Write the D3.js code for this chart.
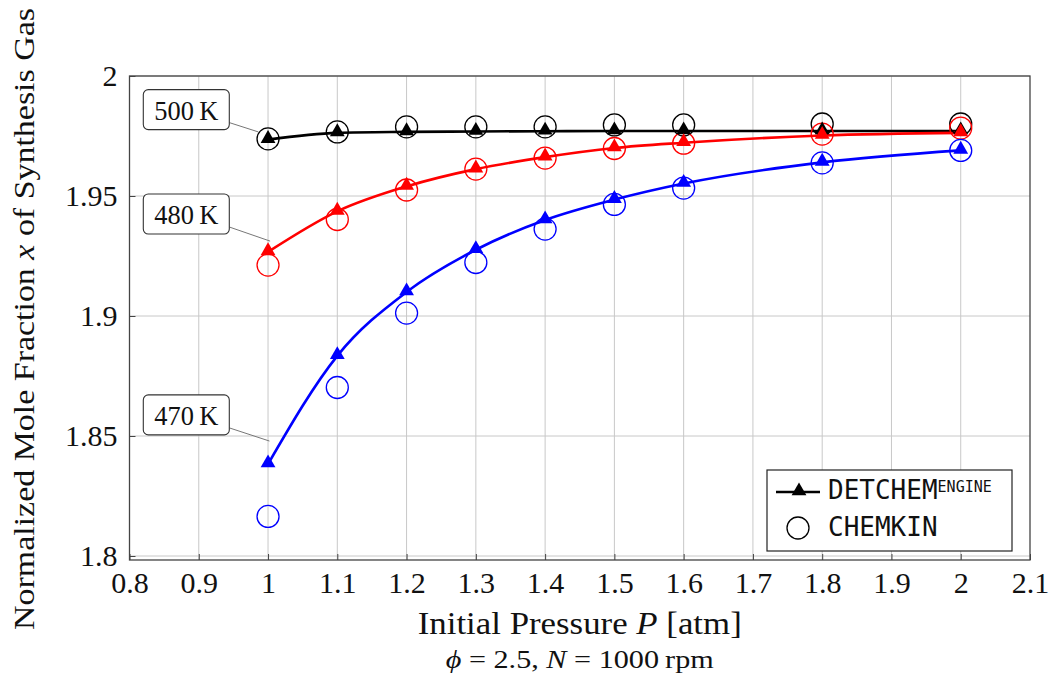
<!DOCTYPE html>
<html>
<head>
<meta charset="utf-8">
<script src="https://cdn.jsdelivr.net/npm/d3@7"></script>
<style>
  body { margin: 0; background: #fff; }
  svg text { font-family: "Liberation Serif", "DejaVu Serif", serif; fill: #111; }
  .mono { font-family: "DejaVu Sans Mono", monospace; }
</style>
</head>
<body>
<div id="chart"></div>
<script>
'use strict';

// pressures [atm]
const pressures = [1.0, 1.1, 1.2, 1.3, 1.4, 1.5, 1.6, 1.8, 2.0];

// DETCHEM^ENGINE (lines with triangles)
const detchem500 = [1.9735, 1.9763, 1.9767, 1.9769, 1.9770, 1.9771, 1.9771, 1.9771, 1.9771];
const detchem480 = [1.9267, 1.9436, 1.9540, 1.9612, 1.9662, 1.9700, 1.9722, 1.9752, 1.9763];
const detchem470 = [1.8383, 1.8834, 1.9100, 1.9276, 1.9400, 1.9485, 1.9552, 1.9640, 1.9690];

// CHEMKIN (open circles)
const chemkin500 = [1.9738, 1.9767, 1.9788, 1.9788, 1.9788, 1.9796, 1.9796, 1.9800, 1.9800];
const chemkin480 = [1.9212, 1.9402, 1.9525, 1.9612, 1.9658, 1.9698, 1.9720, 1.9758, 1.9783];
const chemkin470 = [1.8165, 1.8702, 1.9012, 1.9223, 1.9362, 1.9465, 1.9533, 1.9638, 1.9690];

const xTicks = [0.8, 0.9, 1.0, 1.1, 1.2, 1.3, 1.4, 1.5, 1.6, 1.7, 1.8, 1.9, 2.0, 2.1];
const yTicks = [1.8, 1.85, 1.9, 1.95, 2.0];

const seriesNames = ["500 K", "480 K", "470 K"];
const seriesColors = ["#000000", "#ff0000", "#0000ff"];

// label boxes: box centre and pin end, in data units
const labelBoxX = [0.882, 0.882, 0.882];
const labelBoxY = [1.9860, 1.9425, 1.8588];
const pinX = [0.986, 1.003, 1.002];
const pinY = [1.9767, 1.9312, 1.8479];

const width = 1051;
const height = 682;
const margin = { top: 76, right: 21, bottom: 122, left: 129.5 };

const svg = d3.select("#chart")
    .append("svg")
    .attr("width", width)
    .attr("height", height);

const xScale = d3.scaleLinear()
    .domain([0.8, 2.1])
    .range([margin.left, width - margin.right]);

const yScale = d3.scaleLinear()
    .domain([1.8 - 4 / 2400, 2.0])
    .range([height - margin.bottom, margin.top]);

const fmt = d3.format("~g");

// grid
const grid = svg.append("g").attr("class", "grid");
grid.selectAll("line.gx")
    .data(xTicks.slice(1, -1))
    .join(enter => enter.append("line").attr("class", "gx"))
    .attr("x1", d => xScale(d)).attr("x2", d => xScale(d))
    .attr("y1", margin.top).attr("y2", height - margin.bottom)
    .attr("stroke", "#c8c8c8").attr("stroke-width", 1);

grid.selectAll("line.gy")
    .data(yTicks)
    .join(enter => enter.append("line").attr("class", "gy"))
    .attr("x1", margin.left).attr("x2", width - margin.right)
    .attr("y1", d => yScale(d)).attr("y2", d => yScale(d))
    .attr("stroke", "#c8c8c8").attr("stroke-width", 1);

// axes (ticks inside)
const xAxis = d3.axisBottom(xScale).tickValues(xTicks).tickSize(-6).tickFormat(fmt).tickPadding(14);
const yAxis = d3.axisLeft(yScale).tickValues(yTicks).tickSize(-6).tickFormat(fmt).tickPadding(12);

const gx = svg.append("g")
    .attr("class", "axis x-axis")
    .attr("transform", `translate(0, ${height - margin.bottom})`)
    .call(xAxis);
const gy = svg.append("g")
    .attr("class", "axis y-axis")
    .attr("transform", `translate(${margin.left}, 0)`)
    .call(yAxis);

[gx, gy].forEach(g => {
    g.select(".domain").remove();
    g.selectAll(".tick line").attr("stroke", "#444");
    g.selectAll(".tick text")
        .attr("font-family", "Liberation Serif")
        .attr("font-size", 30)
        .attr("fill", "#111");
});
gx.selectAll(".tick text").attr("dy", "0.62em");

// frame
svg.append("rect")
    .attr("x", margin.left)
    .attr("y", margin.top)
    .attr("width", width - margin.right - margin.left)
    .attr("height", height - margin.bottom - margin.top)
    .attr("fill", "none")
    .attr("stroke", "#444")
    .attr("stroke-width", 1.3);

// series
const detchem = [detchem500, detchem480, detchem470];
const chemkin = [chemkin500, chemkin480, chemkin470];

const line = d3.line()
    .x((d, i) => xScale(pressures[i]))
    .y(d => yScale(d))
    .curve(d3.curveMonotoneX);

const tri = d3.symbol().type(d3.symbolTriangle).size(95);

detchem.forEach((vals, k) => {
    svg.append("path")
        .datum(vals)
        .attr("d", line)
        .attr("fill", "none")
        .attr("stroke", seriesColors[k])
        .attr("stroke-width", 2.6);
});

chemkin.forEach((vals, k) => {
    svg.append("g")
        .selectAll("circle")
        .data(vals)
        .join("circle")
        .attr("cx", (d, i) => xScale(pressures[i]))
        .attr("cy", d => yScale(d))
        .attr("r", 11)
        .attr("fill", "none")
        .attr("stroke", seriesColors[k])
        .attr("stroke-width", 1.3);
});

detchem.forEach((vals, k) => {
    svg.append("g")
        .selectAll("path")
        .data(vals)
        .join("path")
        .attr("d", tri)
        .attr("transform", (d, i) => `translate(${xScale(pressures[i])},${yScale(d) - 1})`)
        .attr("fill", seriesColors[k]);
});

// temperature labels with pins
seriesNames.forEach((name, k) => {
    const cx = xScale(labelBoxX[k]);
    const cy = yScale(labelBoxY[k]);
    const bw = 86, bh = 40;
    svg.append("line")
        .attr("x1", cx + bw / 2).attr("y1", cy + 13)
        .attr("x2", xScale(pinX[k])).attr("y2", yScale(pinY[k]))
        .attr("stroke", "#777").attr("stroke-width", 1);
    svg.append("rect")
        .attr("x", cx - bw / 2).attr("y", cy - bh / 2)
        .attr("width", bw).attr("height", bh)
        .attr("rx", 5)
        .attr("fill", "#fff")
        .attr("stroke", "#333")
        .attr("stroke-width", 1.1);
    svg.append("text")
        .attr("x", cx).attr("y", cy + 10)
        .attr("text-anchor", "middle")
        .attr("font-size", 27)
        .attr("textLength", 64)
        .attr("lengthAdjust", "spacingAndGlyphs")
        .text(name.replace(" ", "\u2009"));
});

// legend
const lg = svg.append("g").attr("class", "legend");
lg.append("rect")
    .attr("x", 767).attr("y", 470)
    .attr("width", 245).attr("height", 81)
    .attr("fill", "#fff")
    .attr("stroke", "#222")
    .attr("stroke-width", 1.2);
lg.append("line")
    .attr("x1", 776).attr("x2", 820)
    .attr("y1", 492).attr("y2", 492)
    .attr("stroke", "#000").attr("stroke-width", 2.6);
lg.append("path")
    .attr("d", tri)
    .attr("transform", "translate(799,491)")
    .attr("fill", "#000");
lg.append("circle")
    .attr("cx", 798).attr("cy", 528).attr("r", 11)
    .attr("fill", "none").attr("stroke", "#000").attr("stroke-width", 1.3);
const t1 = lg.append("text")
    .attr("class", "mono")
    .attr("x", 828).attr("y", 499)
    .attr("font-size", 26)
    .attr("fill", "#111");
t1.append("tspan").text("DETCHEM");
t1.append("tspan").attr("font-size", 15).attr("dy", -7).text("ENGINE");
lg.append("text")
    .attr("class", "mono")
    .attr("x", 828).attr("y", 536)
    .attr("font-size", 26)
    .attr("fill", "#111")
    .text("CHEMKIN");

// axis titles
const xt = svg.append("text")
    .attr("x", (margin.left + width - margin.right) / 2)
    .attr("y", 634)
    .attr("text-anchor", "middle")
    .attr("font-size", 31)
    .attr("textLength", 324)
    .attr("lengthAdjust", "spacingAndGlyphs");
xt.append("tspan").text("Initial Pressure ");
xt.append("tspan").attr("font-style", "italic").text("P");
xt.append("tspan").text(" [atm]");

const st = svg.append("text")
    .attr("x", (margin.left + width - margin.right) / 2)
    .attr("y", 668)
    .attr("text-anchor", "middle")
    .attr("font-size", 26)
    .attr("textLength", 268)
    .attr("lengthAdjust", "spacingAndGlyphs");
st.append("tspan").attr("font-style", "italic").text("\u03d5");
st.append("tspan").text(" = 2.5,  ");
st.append("tspan").attr("font-style", "italic").text("N");
st.append("tspan").text(" = 1000\u2009rpm");

const yt = svg.append("text")
    .attr("transform", `translate(34, ${(margin.top + height - margin.bottom) / 2 + 1}) rotate(-90)`)
    .attr("text-anchor", "middle")
    .attr("font-size", 30)
    .attr("textLength", 622)
    .attr("lengthAdjust", "spacingAndGlyphs");
yt.append("tspan").text("Normalized Mole Fraction ");
yt.append("tspan").attr("font-style", "italic").text("x");
yt.append("tspan").text(" of Synthesis Gas");
</script>
</body>
</html>
